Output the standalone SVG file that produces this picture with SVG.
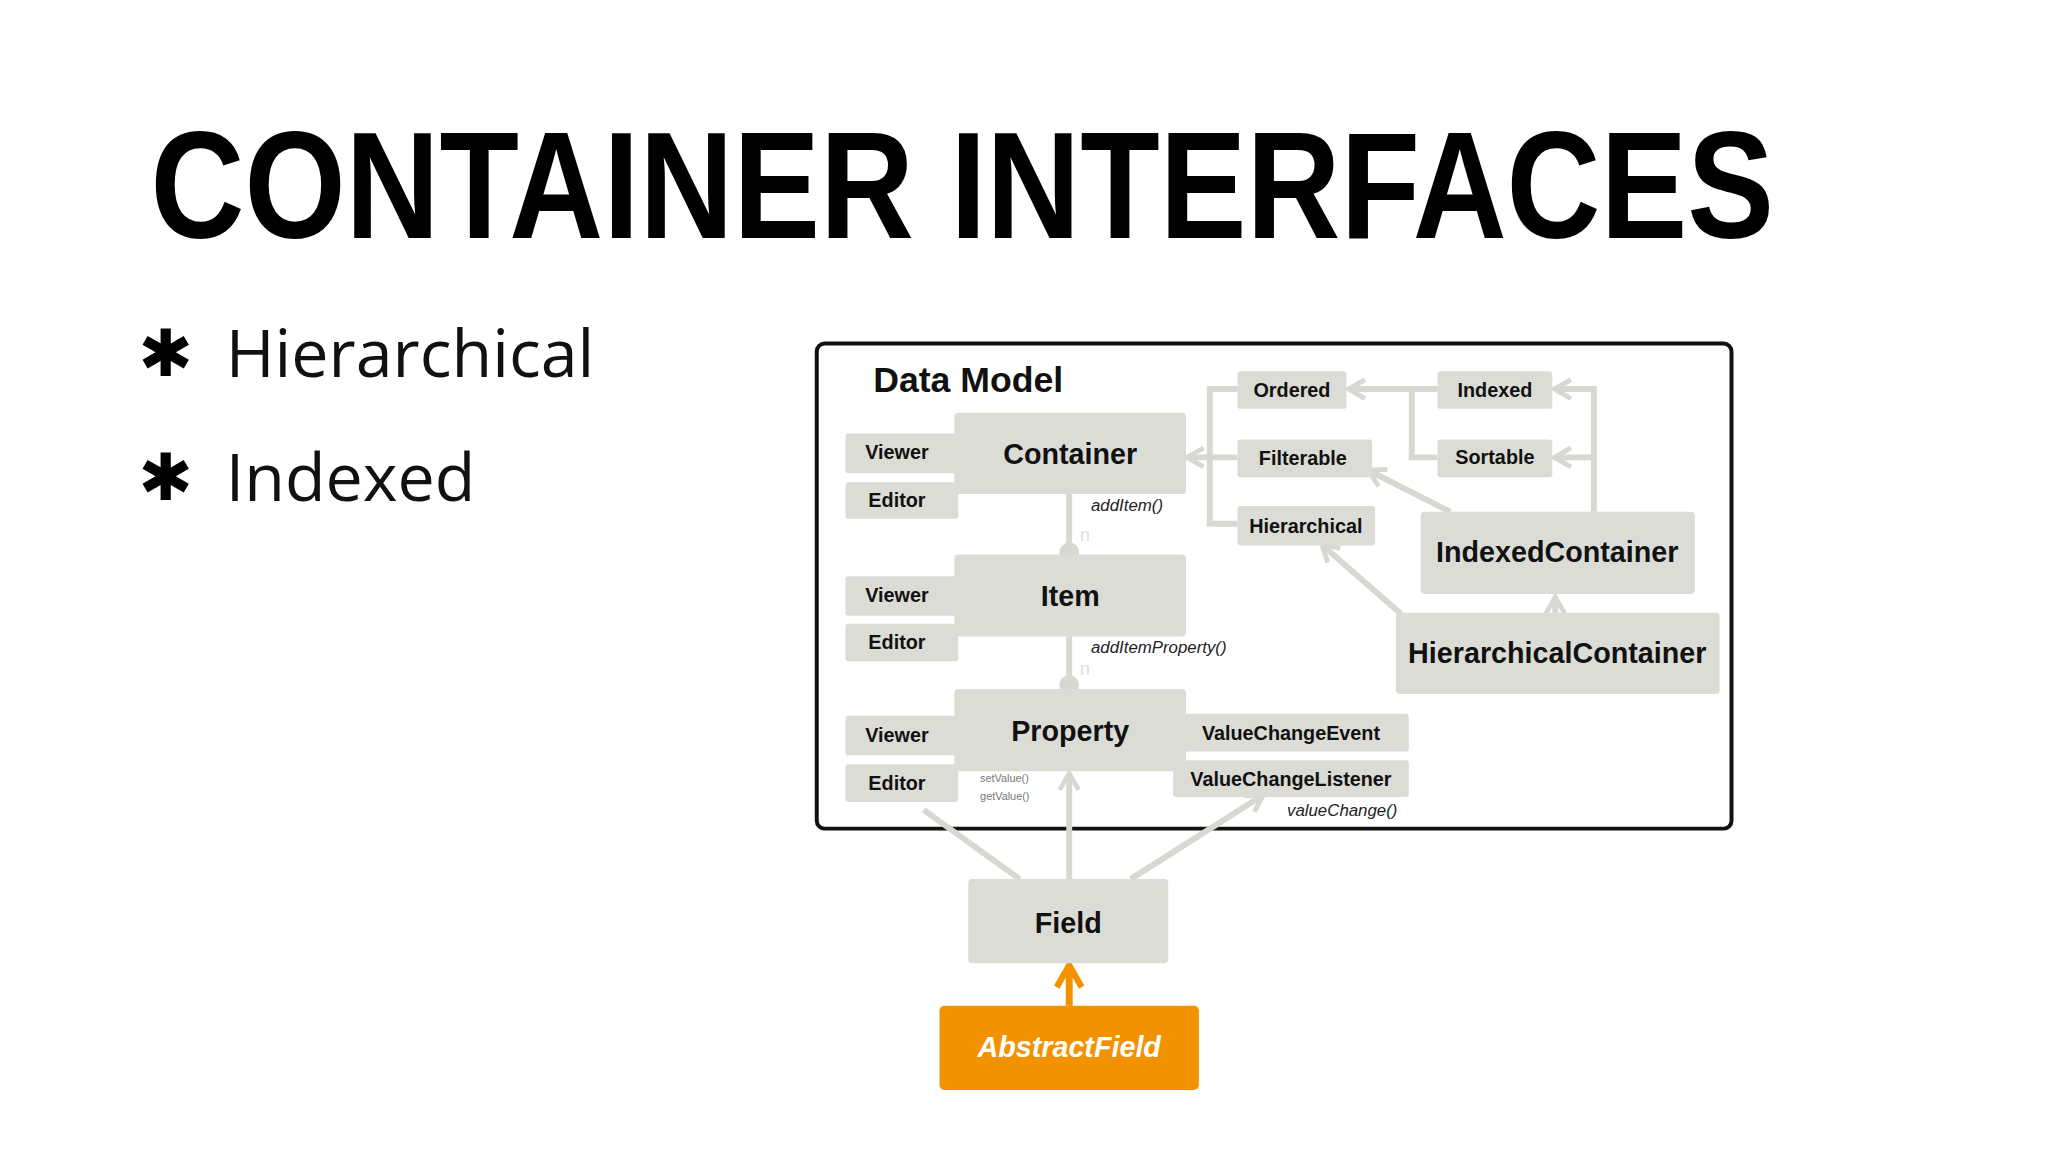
<svg xmlns="http://www.w3.org/2000/svg" width="2048" height="1152" viewBox="0 0 2048 1152">
<style>
.b{fill:#dcdcd6}
.t{font-family:"Liberation Sans",Arial,sans-serif;font-weight:bold;fill:#111;text-anchor:middle}
.s{font-size:20px}.l{font-size:29px}
.i{font-family:"Liberation Sans",Arial,sans-serif;font-style:italic;fill:#222;font-size:17px}
.c{stroke:#d8d8d2;stroke-width:6;fill:none}
</style>
<defs>
<marker id="a" viewBox="0 0 10 10" refX="8" refY="5" markerWidth="4" markerHeight="4" orient="auto" markerUnits="strokeWidth"><path d="M1,1 L8,5 L1,9" fill="none" stroke="#d8d8d2" stroke-width="2"/></marker>
<marker id="o" viewBox="0 0 10 10" refX="8" refY="5" markerWidth="4.5" markerHeight="4.5" orient="auto" markerUnits="strokeWidth"><path d="M1,1 L8,5 L1,9" fill="none" stroke="#f39200" stroke-width="2"/></marker>
</defs>
<rect width="2048" height="1152" fill="#fff"/>
<g transform="scale(0.99)">
<text x="152" y="240" font-family="Liberation Sans,Arial,sans-serif" font-weight="bold" font-size="154" textLength="1640" lengthAdjust="spacingAndGlyphs" fill="#000">CONTAINER INTERFACES</text>
<g font-family="DejaVu Sans,sans-serif" font-size="66" font-weight="bold"><text x="140" y="380">✱</text><text x="140" y="505">✱</text></g>
<g font-family="Open Sans,Liberation Sans,sans-serif" font-size="67" fill="#111"><text x="228" y="381">Hierarchical</text><text x="228" y="506">Indexed</text></g>
<rect x="825" y="347" width="924" height="490" rx="8" fill="#fff" stroke="#111" stroke-width="4"/>
<text x="882" y="396" font-family="Liberation Sans,Arial,sans-serif" font-weight="bold" font-size="36" fill="#111">Data Model</text>
<g id="connectors">
<path class="c" d="M1080,499 V556 M1080,643 V690"/>
<circle cx="1080" cy="558" r="10" fill="#d8d8d2"/><circle cx="1080" cy="692" r="10" fill="#d8d8d2"/>
<path class="c" d="M1250,393 H1222 V529 H1250"/>
<path class="c" d="M1250,462 H1199" marker-end="url(#a)"/>
<path class="c" d="M1452,393 H1362" marker-end="url(#a)"/>
<path class="c" d="M1426,393 V462 H1452"/>
<path class="c" d="M1610,517 V393 H1570" marker-end="url(#a)"/>
<path class="c" d="M1610,462 H1570" marker-end="url(#a)"/>
<path class="c" d="M1465,517 L1382,475" marker-end="url(#a)"/>
<path class="c" d="M1415,620 L1335,550" marker-end="url(#a)"/>
<path class="c" d="M1571,619 V603" marker-end="url(#a)"/>
<path class="c" d="M1080,888 V781" marker-end="url(#a)"/>
<path class="c" d="M1030,888 L933,818"/>
<path class="c" d="M1142,888 L1276,803" marker-end="url(#a)"/>
<path d="M1080,1016 V975" stroke="#f39200" stroke-width="7" fill="none" marker-end="url(#o)"/>
</g>
<g id="container"><rect class="b" x="964" y="417" width="234" height="82" rx="4"/><text class="t l" x="1081" y="469">Container</text></g>
<g id="viewer1"><rect class="b" x="854" y="438" width="114" height="40" rx="3"/><text class="t s" x="906" y="464">Viewer</text></g>
<g id="editor1"><rect class="b" x="854" y="487" width="114" height="37" rx="3"/><text class="t s" x="906" y="512">Editor</text></g>
<g id="item"><rect class="b" x="964" y="560" width="234" height="83" rx="4"/><text class="t l" x="1081" y="612">Item</text></g>
<g id="viewer2"><rect class="b" x="854" y="582" width="114" height="40" rx="3"/><text class="t s" x="906" y="608">Viewer</text></g>
<g id="editor2"><rect class="b" x="854" y="630" width="114" height="38" rx="3"/><text class="t s" x="906" y="656">Editor</text></g>
<g id="property"><rect class="b" x="964" y="696" width="234" height="83" rx="4"/><text class="t l" x="1081" y="748">Property</text></g>
<g id="viewer3"><rect class="b" x="854" y="723" width="114" height="40" rx="3"/><text class="t s" x="906" y="750">Viewer</text></g>
<g id="editor3"><rect class="b" x="854" y="772" width="114" height="38" rx="3"/><text class="t s" x="906" y="798">Editor</text></g>
<g id="vce"><rect class="b" x="1185" y="721" width="238" height="38" rx="3"/><text class="t s" x="1304" y="747">ValueChangeEvent</text></g>
<g id="vcl"><rect class="b" x="1185" y="768" width="238" height="37" rx="3"/><text class="t s" x="1304" y="794">ValueChangeListener</text></g>
<text class="i" x="1300" y="824">valueChange()</text>
<text class="i" x="1102" y="516">addItem()</text><text class="i" x="1102" y="660">addItemProperty()</text>
<text x="1091" y="546" font-family="Liberation Sans,sans-serif" font-size="18" fill="#ddd">n</text>
<text x="1091" y="682" font-family="Liberation Sans,sans-serif" font-size="18" fill="#ddd">n</text>
<g font-family="Liberation Sans,sans-serif" font-size="11" fill="#777"><text x="990" y="790">setValue()</text><text x="990" y="808">getValue()</text></g>
<g id="ordered"><rect class="b" x="1250" y="375" width="110" height="38" rx="3"/><text class="t s" x="1305" y="401">Ordered</text></g>
<g id="indexed"><rect class="b" x="1452" y="375" width="116" height="38" rx="3"/><text class="t s" x="1510" y="401">Indexed</text></g>
<g id="filterable"><rect class="b" x="1250" y="444" width="136" height="38" rx="3"/><text class="t s" x="1316" y="470">Filterable</text></g>
<g id="sortable"><rect class="b" x="1452" y="444" width="116" height="38" rx="3"/><text class="t s" x="1510" y="469">Sortable</text></g>
<g id="hierarchical"><rect class="b" x="1250" y="511" width="139" height="40" rx="3"/><text class="t s" x="1319" y="538">Hierarchical</text></g>
<g id="indexedcontainer"><rect class="b" x="1435" y="517" width="277" height="83" rx="4"/><text class="t l" x="1573" y="568">IndexedContainer</text></g>
<g id="hierarchicalcontainer"><rect class="b" x="1410" y="619" width="327" height="82" rx="4"/><text class="t l" x="1573" y="670">HierarchicalContainer</text></g>
<g id="field"><rect class="b" x="978" y="888" width="202" height="85" rx="4"/><text class="t l" x="1079" y="942">Field</text></g>
<g id="abstractfield"><rect x="949" y="1016" width="262" height="85" rx="5" fill="#f39200"/><text class="t l" x="1080" y="1068" style="fill:#fff;font-style:italic">AbstractField</text></g>
</g>
</svg>
